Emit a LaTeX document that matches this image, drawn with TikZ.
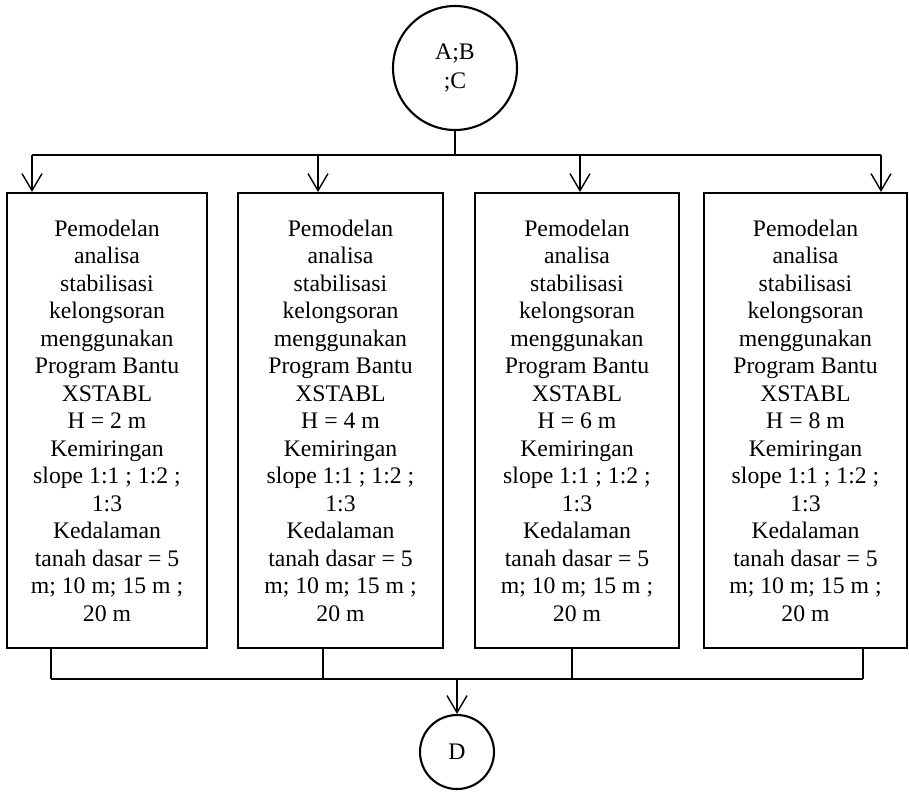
\documentclass[tikz,border=0pt]{standalone}
\usepackage{fontspec}
\setmainfont{Liberation Serif}
\usetikzlibrary{arrows.meta}

\newcommand{\modeltext}[1]{Pemodelan\\analisa\\stabilisasi\\kelongsoran\\menggunakan\\Program Bantu\\XSTABL\\H = #1 m\\Kemiringan\\slope 1:1 ; 1:2 ;\\1:3\\Kedalaman\\tanah dasar = 5\\m; 10 m; 15 m ;\\20 m}

\tikzset{
  box/.style={draw, line width=1.2pt, minimum height=9.1cm, inner sep=0pt, align=center,
    font=\fontsize{13.5}{15.65}\selectfont},
  terminal/.style={draw, circle, line width=1.2pt, inner sep=0pt, align=center,
    font=\fontsize{13.5}{16.4}\selectfont},
  conn/.style={line width=0.8pt},
  arr/.style={conn, -{Straight Barb[length=3.4mm,width=4mm]}}
}

\begin{document}
\begin{tikzpicture}[x=0.02cm,y=-0.02cm]
\useasboundingbox (0,0) rectangle (909,791);

\node[terminal, minimum size=2.48cm] (abc) at (455,68) {A;B\\;C};

\node[box, minimum width=4cm] (b1) at (107,420.5) {\modeltext{2}};
\node[box, minimum width=4.1cm] (b2) at (340.5,420.5) {\modeltext{4}};
\node[box, minimum width=4.08cm] (b3) at (577,420.5) {\modeltext{6}};
\node[box, minimum width=4.06cm] (b4) at (805.5,420.5) {\modeltext{8}};

\node[terminal, minimum size=1.48cm] (d) at (457,752) {D};

% top split
\coordinate (split) at (455,155);
\coordinate (t1) at (32,155);
\coordinate (t2) at (318,155);
\coordinate (t3) at (580,155);
\coordinate (t4) at (881,155);
\draw[conn] (abc) -- (split);
\draw[conn] (t1) -- (t4);
\draw[arr] (t1) -- (t1 |- b1.north);
\draw[arr] (t2) -- (t2 |- b2.north);
\draw[arr] (t3) -- (t3 |- b3.north);
\draw[arr] (t4) -- (t4 |- b4.north);

% bottom join
\coordinate (u1) at (51,679);
\coordinate (u2) at (323,679);
\coordinate (u3) at (572,679);
\coordinate (u4) at (863,679);
\coordinate (join) at (457,679);
\draw[conn] (u1 |- b1.south) -- (u1);
\draw[conn] (u2 |- b2.south) -- (u2);
\draw[conn] (u3 |- b3.south) -- (u3);
\draw[conn] (u4 |- b4.south) -- (u4);
\draw[conn] (u1) -- (u4);
\draw[arr] (join) -- (d);
\end{tikzpicture}
\end{document}
